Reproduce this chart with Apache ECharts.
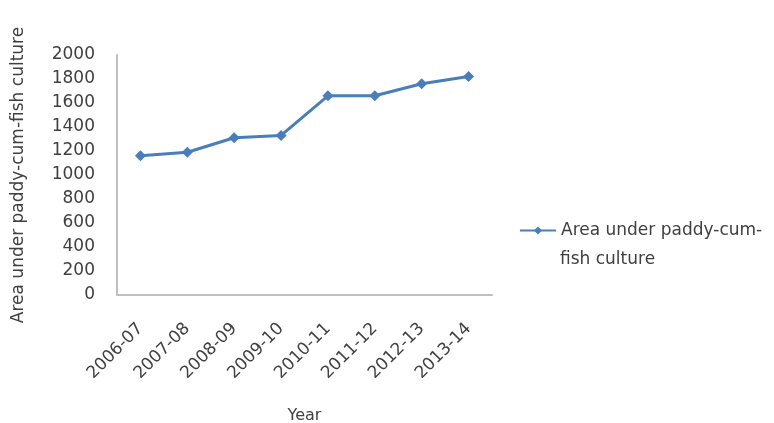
<!DOCTYPE html>
<html>
<head>
<meta charset="utf-8">
<script src="https://cdn.jsdelivr.net/npm/echarts@6/dist/echarts.min.js"></script>
<style>
  html, body { margin: 0; padding: 0; background: #fff; }
  #chart { width: 774px; height: 423px; }
</style>
</head>
<body>
<div id="chart"></div>
<script>
// Data
const years = ['2006-07', '2007-08', '2008-09', '2009-10', '2010-11', '2011-12', '2012-13', '2013-14'];
const area = [1160, 1190, 1310, 1330, 1660, 1660, 1760, 1820];
const seriesName = 'Area under paddy-cum-fish culture';

const chartInstance = echarts.init(document.getElementById('chart'));

const font = 'DejaVu Sans';
const textColor = '#404040';

const options = {
  animation: false,
  backgroundColor: '#fff',
  textStyle: { fontFamily: font },
  grid: {
    left: 117,
    right: 282,
    top: 55,
    bottom: 128,
    containLabel: false,
    outerBoundsMode: 'none'
  },
  legend: {
    data: [seriesName],
    left: 519,
    top: 222,
    padding: 0,
    itemWidth: 36,
    itemHeight: 10,
    itemGap: 3,
    formatter: () => 'Area under paddy-cum-',
    textStyle: { fontFamily: font, fontSize: 17, color: textColor }
  },
  // second line of the wrapped legend label
  graphic: [
    {
      type: 'text',
      left: 560,
      top: 251,
      style: { text: 'fish culture', fontFamily: font, fontSize: 17, fill: textColor }
    }
  ],
  xAxis: {
    type: 'category',
    data: years,
    boundaryGap: true,
    name: 'Year',
    nameLocation: 'middle',
    nameGap: 113,
    nameTextStyle: { fontFamily: font, fontSize: 16, color: textColor },
    axisLine: { lineStyle: { color: '#bfbfbf', width: 2 } },
    axisTick: { show: false },
    axisLabel: { rotate: 45, fontSize: 17, color: textColor, margin: 31 }
  },
  yAxis: {
    type: 'value',
    min: 0,
    max: 2000,
    interval: 200,
    name: seriesName,
    nameLocation: 'middle',
    nameRotate: 90,
    nameGap: 90,
    nameTextStyle: { fontFamily: font, fontSize: 17, color: textColor },
    axisLine: { show: true, lineStyle: { color: '#bfbfbf', width: 2 } },
    axisTick: { show: false },
    splitLine: { show: false },
    axisLabel: { fontSize: 17, color: textColor, margin: 22, formatter: (v) => String(v) }
  },
  series: [
    {
      name: seriesName,
      type: 'line',
      data: area,
      symbol: 'diamond',
      symbolSize: 11,
      lineStyle: { color: '#4a7ebb', width: 3 },
      itemStyle: { color: '#4a7ebb' }
    }
  ]
};

chartInstance.setOption(options);

window.addEventListener('resize', () => {
  chartInstance.resize();
});
</script>
</body>
</html>
